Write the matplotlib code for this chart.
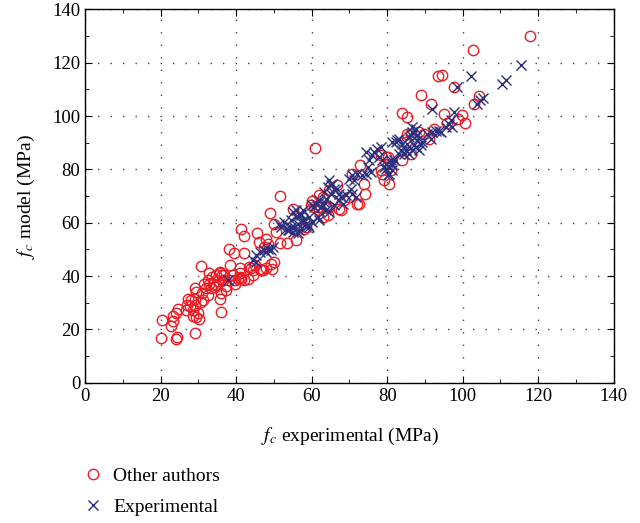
import numpy as np
import matplotlib
matplotlib.use('Agg')
import matplotlib.pyplot as plt
from matplotlib.ticker import MultipleLocator

plt.rcParams['font.family'] = 'Liberation Serif'
plt.rcParams['mathtext.fontset'] = 'stix'

# other authors (red circles): f_c experimental, f_c model
other_x = [20.2, 20.4, 24.0, 24.3, 22.8, 23.2, 23.2, 24.6, 24.1, 26.8, 26.9, 29.2, 28.5, 29.4,
           30.1, 29.9, 27.7, 28.5, 27.2, 28.1, 29.2, 29.4, 29.2, 30.8, 30.8, 30.9, 31.2, 29.0,
           32.1, 31.6, 32.8, 32.9, 33.7, 32.5, 32.5, 33.4, 34.3, 33.8, 34.7, 35.1, 34.7, 36.3,
           36.6, 35.6, 36.0, 36.0, 35.8, 37.4, 37.2, 38.2, 38.0, 39.4, 38.5, 39.1, 39.8, 40.4,
           41.1, 41.1, 41.3, 43.1, 42.1, 41.3, 42.0, 43.5, 44.4, 46.6, 47.9, 49.2, 50.1, 49.5,
           45.4, 47.9, 46.0, 47.5, 48.3, 49.0, 50.1, 50.6, 51.7, 51.7, 53.5, 55.0, 55.9, 58.0,
           60.2, 61.0, 60.7, 62.0, 63.8, 62.9, 62.0, 64.7, 65.5, 66.8, 67.3, 68.6, 72.1, 72.8,
           73.9, 78.3, 79.2, 80.5, 78.7, 80.1, 78.3, 80.3, 84.0, 86.2, 84.9, 85.3, 86.2, 88.4,
           89.8, 91.1, 92.4, 83.9, 85.3, 88.9, 91.5, 95.0, 95.9, 97.6, 98.8, 99.9, 100.5, 103.0,
           104.3, 102.8, 117.8, 93.4, 94.4, 35.6, 36.9, 44.0, 45.1, 46.2, 47.0, 44.4, 40.9, 39.6,
           42.2, 79.6, 74.1, 72.4, 67.7, 70.8, 69.9, 64.7, 61.6, 59.8, 62.9, 64.2, 58.5, 81.0]
other_y = [16.9, 23.5, 16.4, 17.0, 21.2, 23.1, 25.0, 27.8, 26.0, 27.2, 29.1, 18.8, 25.0, 24.6,
           23.9, 26.0, 28.7, 27.2, 31.6, 31.0, 31.3, 34.1, 35.4, 43.7, 30.3, 33.5, 31.0, 29.1,
           35.4, 37.2, 37.2, 41.2, 39.7, 38.5, 32.8, 35.4, 36.0, 37.2, 36.6, 38.2, 40.3, 40.3,
           38.5, 41.0, 26.6, 33.5, 31.6, 34.7, 36.3, 38.5, 50.1, 48.8, 44.1, 40.3, 37.0, 39.1,
           43.2, 41.0, 39.1, 39.1, 48.8, 57.6, 54.9, 43.4, 42.2, 42.2, 43.2, 44.7, 45.3, 42.5,
           56.0, 54.1, 52.8, 50.9, 52.2, 63.6, 59.7, 56.6, 70.0, 52.6, 52.4, 65.3, 53.4, 57.8,
           68.2, 88.2, 65.9, 64.7, 65.9, 69.7, 70.3, 72.2, 68.4, 74.0, 65.3, 68.4, 67.2, 81.5,
           74.7, 79.7, 75.9, 74.7, 78.4, 82.2, 85.3, 84.6, 83.7, 85.9, 90.3, 93.4, 93.4, 94.0,
           93.4, 91.5, 95.3, 101.1, 99.6, 108.0, 104.6, 100.9, 97.4, 110.9, 99.0, 100.3, 97.4, 104.6,
           107.5, 124.6, 130.2, 115.2, 115.5, 41.6, 40.6, 43.2, 44.1, 42.8, 42.2, 40.3, 39.7, 38.5,
           38.5, 84.6, 70.9, 66.9, 64.7, 78.4, 69.7, 65.9, 65.9, 66.6, 62.2, 62.9, 58.4, 79.7]

# experimental (blue crosses)
exp_x = [37.9, 44.4, 45.3, 45.3, 46.2, 47.5, 47.9, 48.3, 49.2, 49.7, 55.0, 55.9, 57.2, 57.6,
         56.3, 54.5, 53.6, 52.8, 51.4, 56.7, 58.5, 59.4, 60.7, 62.0, 62.9, 63.8, 61.6, 60.2,
         51.9, 53.2, 54.5, 55.4, 55.9, 57.2, 57.6, 58.5, 58.9, 56.3, 55.0, 54.1, 60.2, 61.1,
         62.5, 62.0, 63.3, 63.8, 64.7, 65.1, 66.0, 67.3, 67.7, 69.1, 68.2, 66.0, 74.3, 76.6,
         77.4, 78.3, 77.9, 78.7, 79.6, 81.0, 76.1, 75.2, 74.8, 75.7, 74.3, 73.4, 72.1, 70.8,
         69.9, 71.3, 70.4, 70.8, 71.7, 66.8, 65.5, 64.7, 64.2, 63.3, 65.1, 67.3, 57.6, 56.7,
         59.4, 87.6, 86.7, 85.8, 88.0, 87.1, 88.4, 84.0, 82.7, 81.4, 84.9, 85.8, 83.1, 81.8,
         81.4, 79.6, 80.1, 91.9, 91.5, 92.8, 94.2, 90.6, 89.3, 91.8, 97.7, 96.8, 97.2, 103.8,
         104.7, 98.5, 96.4, 95.5, 93.7, 87.9, 86.2, 86.7, 85.3, 83.1, 82.3, 83.6, 84.4, 86.7,
         87.6, 88.9, 81.4, 81.4, 79.2, 80.5, 102.2, 110.4, 111.4, 115.4, 105.5]
exp_y = [38.5, 46.0, 45.3, 47.8, 49.1, 49.7, 49.1, 50.3, 49.7, 50.9, 64.0, 64.7, 63.4, 60.9,
         59.7, 58.4, 57.2, 60.3, 59.7, 57.2, 58.4, 62.2, 65.9, 68.4, 66.6, 69.1, 62.2, 60.3,
         58.4, 57.8, 60.9, 58.4, 62.2, 62.8, 60.3, 59.7, 59.1, 56.0, 56.6, 57.2, 66.6, 67.2,
         65.9, 61.2, 67.8, 64.7, 64.0, 74.0, 72.8, 70.9, 69.7, 70.3, 67.2, 66.6, 86.5, 86.5,
         87.8, 88.4, 84.6, 83.4, 82.2, 83.4, 85.3, 83.4, 80.9, 79.0, 78.4, 77.8, 78.4, 77.8,
         76.6, 75.9, 72.8, 70.9, 69.7, 72.8, 74.7, 75.9, 73.4, 71.5, 70.9, 68.4, 64.7, 63.4,
         58.4, 95.3, 94.0, 92.1, 90.9, 89.0, 87.2, 89.7, 90.9, 90.3, 87.2, 85.9, 85.9, 83.4,
         81.5, 80.3, 77.8, 94.0, 91.5, 94.6, 94.0, 93.4, 90.3, 102.8, 101.5, 98.4, 95.9, 104.6,
         105.9, 110.9, 97.2, 95.9, 94.6, 92.8, 92.8, 95.9, 89.7, 91.5, 90.3, 87.2, 85.9, 87.2,
         88.4, 89.0, 82.2, 79.7, 80.9, 78.4, 114.9, 112.1, 113.7, 119.0, 106.7]

fig = plt.figure(figsize=(6.4, 5.23), dpi=100)
ax = fig.add_axes([0.133, 0.268, 0.826, 0.714])

ax.plot(other_x, other_y, 'o', ls='none', mfc='none', mec='#ee1c25', ms=7.5, mew=1.0,
        label='Other authors')
ax.plot(exp_x, exp_y, 'x', ls='none', color='#2a3080', ms=6.5, mew=1.0,
        label='Experimental')

ax.set_xlim(0, 140)
ax.set_ylim(0, 140)
ax.xaxis.set_major_locator(MultipleLocator(20))
ax.yaxis.set_major_locator(MultipleLocator(20))
ax.xaxis.set_minor_locator(MultipleLocator(10))
ax.yaxis.set_minor_locator(MultipleLocator(10))
ax.tick_params(which='both', direction='in', top=True, right=True, labelsize=13.5)
ax.tick_params(which='major', length=5)
ax.tick_params(which='minor', length=3)
ax.grid(which='major', color='#444444', linestyle=(0, (1, 8)), linewidth=1.0)
for s in ax.spines.values():
    s.set_linewidth(1.0)

ax.set_xlabel(r'$f_c$ experimental (MPa)', fontsize=14, labelpad=15)
ax.set_ylabel(r'$f_c$ model (MPa)', fontsize=14, labelpad=11)

fig.legend(loc='upper left', bbox_to_anchor=(0.095, 0.14), frameon=False, fontsize=14,
           handletextpad=0.3, labelspacing=0.7, handlelength=1.5)

fig.savefig('out.png', dpi=100)
